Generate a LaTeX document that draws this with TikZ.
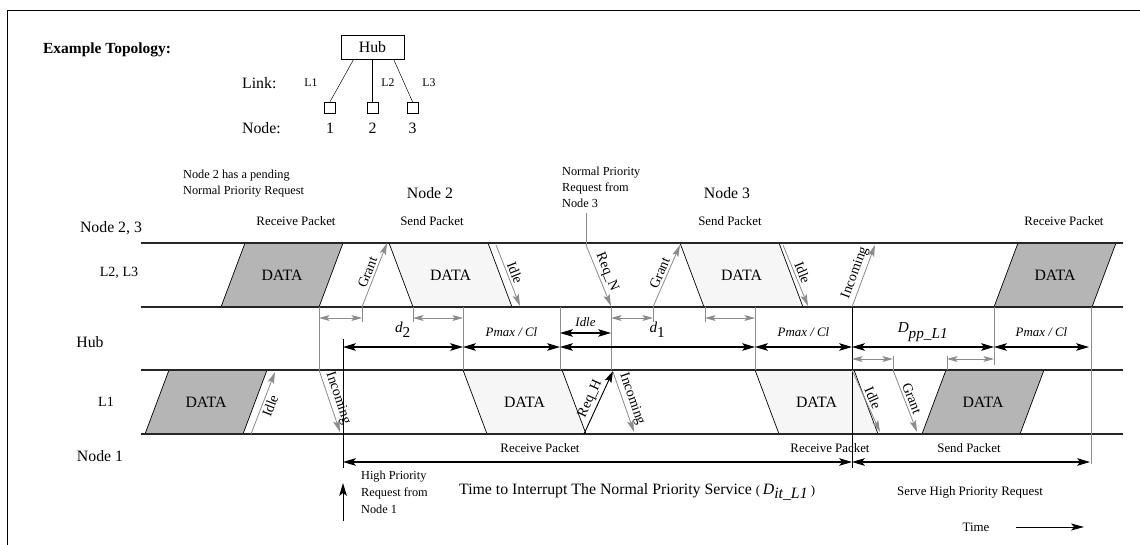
\documentclass[tikz,border=0pt]{standalone}
\usepackage{fontspec}
\setmainfont{Liberation Serif}
\usetikzlibrary{arrows.meta}

\definecolor{pktdark}{gray}{0.71}
\definecolor{pktlight}{gray}{0.965}
\definecolor{wire}{gray}{0.55}

\begin{document}
\begin{tikzpicture}[x=0.03cm,y=-0.03cm,
  bigtxt/.style={font=\fontsize{13.5}{16}\selectfont},
  pkttxt/.style={font=\fontsize{11}{13}\selectfont},
  notetxt/.style={font=\fontsize{10.5}{13.4}\selectfont, align=left, anchor=north west},
  rottxt/.style={font=\fontsize{12}{14}\selectfont, text=black, sloped, above, inner sep=2pt},
  band/.style={line width=0.9pt, black!85},
  dark/.style={draw, line width=0.6pt, fill=pktdark},
  light/.style={draw, line width=0.6pt, fill=pktlight},
  sig/.style={wire, line width=0.7pt, -{Stealth[length=10pt,width=5.5pt,inset=2pt]}},
  gdim/.style={wire, line width=0.7pt, {Stealth[length=9pt,width=5pt,inset=2pt]}-{Stealth[length=9pt,width=5pt,inset=2pt]}},
  dim/.style={line width=0.9pt, {Stealth[length=11pt,width=6.5pt,inset=2.5pt]}-{Stealth[length=11pt,width=6.5pt,inset=2.5pt]}},
  tick/.style={wire, line width=0.6pt}]
\useasboundingbox (0,0) rectangle (1140,545);
\draw[line width=0.8pt] (1140,10) -- (7,10) -- (7,545);

% topology
\node[anchor=west, font=\fontsize{13.2}{15}\selectfont\bfseries] (topo) at (39,50) {Example Topology:};
\node[draw, minimum width=53.6pt, minimum height=20.4pt, bigtxt] (hub) at (372.5,47) {Hub};
\foreach \n/\x in {1/330,2/372.5,3/412.5}{
  \node[draw, minimum size=9.4pt, inner sep=0pt] (n\n) at (\x,107.5) {};
  \node[bigtxt] (nl\n) at (\x,128) {\n};
}
\draw (hub.213) -- (n1.north);
\draw (hub.south) -- (n2.north);
\draw (hub.-30) -- (n3.north);
\node[anchor=west, bigtxt] (lk) at (238,83) {Link:};
\node[anchor=west, bigtxt] (nd) at (238,128) {Node:};
\foreach \l/\x in {L1/311,L2/388,L3/429}
  \node[font=\fontsize{10}{12}\selectfont] at (\x,83) {\l};

% packets
\foreach \x/\y in {245/243,1018/243,169/370,946/370}{
  \draw[dark] (\x,\y) -- ++(98,0) -- ++(-24,64) -- ++(-98,0) -- cycle;
  \path (\x,\y) ++(37,32) node[bigtxt] {DATA};
}
\foreach \x/\y in {389/243,680/243,463/370,755/370}{
  \draw[light] (\x,\y) -- ++(99,0) -- ++(24,64) -- ++(-99,0) -- cycle;
  \path (\x,\y) ++(61.5,32) node[bigtxt] {DATA};
}

% time lines
\foreach \y in {243,307,370,434}
  \draw[band] (141,\y) -- (1123,\y);
\node[bigtxt] (s23) at (111,228) {Node 2, 3};
\node[font=\fontsize{12}{14}\selectfont] (l23) at (119,273) {L2, L3};
\node[bigtxt] (shub) at (90,342) {Hub};
\node[font=\fontsize{12}{14}\selectfont] (l1) at (106,402) {L1};
\node[bigtxt] (s1) at (100,456) {Node 1};

% labels over the packets
\node[pkttxt] at (296,221) {Receive Packet};
\node[pkttxt] at (432,221) {Send Packet};
\node[pkttxt] at (730,221) {Send Packet};
\node[pkttxt] at (1064,221) {Receive Packet};
\node[pkttxt] at (540,448) {Receive Packet};
\node[pkttxt] at (830,448) {Receive Packet};
\node[pkttxt] at (969,448) {Send Packet};
\node[bigtxt] at (430,193) {Node 2};
\node[bigtxt] at (727,193) {Node 3};
\node[notetxt] (pend) at (179,166) {Node 2 has a pending\\Normal Priority Request};
\node[notetxt] (reqn) at (558,163) {Normal Priority\\Request from\\Node 3};

% hub marks
\foreach \x in {319,463,560,611,755}
  \draw[tick] (\x,307) -- (\x,370);
\draw[tick] (994,307) -- (994,365);
\draw[tick] (1091,307) -- (1091,464);
\foreach \x in {362,413,653,705}
  \draw[tick] (\x,307) -- (\x,322);
\foreach \x in {893,947}
  \draw[tick] (\x,356) -- (\x,370);
\draw[line width=0.8pt] (343,339) -- (343,468);
\draw[line width=0.8pt] (852,307) -- (852,468);

\foreach \p/\q/\y in {319/362/318,413/463/318,611/653/318,705/755/318,852/893/359,947/994/359}
  \draw[gdim] (\p,\y) -- (\q,\y);

\foreach \n/\x in {a/343,b/463,c/560,d/755,e/852,f/994,g/1089}
  \coordinate (\n) at (\x,347);
\draw[dim] (a) -- node[above=4pt] {\fontsize{13}{15}\selectfont\textit{d}$_{\textrm{2}}$} (b);
\draw[dim] (b) -- node[above=5pt, pkttxt] {\textit{Pmax / Cl}} (c);
\draw[dim] (c) -- node[above=4pt] {\fontsize{13}{15}\selectfont\textit{d}$_{\textrm{1}}$} (d);
\draw[dim] (d) -- node[above=5pt, pkttxt] {\textit{Pmax / Cl}} (e);
\draw[dim] (e) -- node[above=1pt] {\fontsize{13}{15}\selectfont\textit{D}$_{\textit{pp\_L1}}$} (f);
\draw[dim] (f) -- node[above=5pt, pkttxt] {\textit{Pmax / Cl}} (g);
\coordinate (i0) at (560,333);
\coordinate (i1) at (611,333);
\draw[dim] (i0) -- node[above=2pt, pkttxt] {\textit{Idle}} (i1);

% signals on the links
\draw[sig] (362,307) -- node[rottxt] {Grant} (387,243);
\draw[sig] (496,245) -- node[rottxt] {Idle} (520,306);
\draw[tick] (reqn.south west -| 586,0) ++(0,2) -- (586,245);
\draw[sig] (586,245) -- node[rottxt] {Req\_N} (611,306);
\draw[sig] (653,307) -- node[rottxt] {Grant} (680,245);
\draw[sig] (783,245) -- node[rottxt] {Idle} (808,306);
\draw[sig] (852,307) -- node[rottxt] {Incoming} (875,245);
\draw[sig] (251,434) -- node[rottxt, below] {Idle} (275,372);
\draw[sig] (319,370) -- node[rottxt] {Incoming} (340,432);
\draw[line width=0.8pt, -{Stealth[length=10pt,width=6pt,inset=2pt]}] (584,434) -- node[rottxt] {Req\_H} (613,371);
\draw[sig] (613,372) -- node[rottxt] {Incoming} (634,432);
\draw[sig] (852,370) -- node[rottxt] {Idle} (880,432);
\draw[sig] (893,370) -- node[rottxt] {Grant} (917,432);

% node 1 service
\coordinate (r0) at (343,462);
\coordinate (r1) at (852,462);
\coordinate (r2) at (1090,462);
\draw[dim] (r0) -- (r1);
\draw[dim] (r1) -- (r2);
\coordinate (hp) at (343,521);
\draw[line width=0.8pt, -{Stealth[length=11pt,width=6.5pt,inset=2.5pt]}] (hp) -- (343,483);
\node[notetxt, font=\fontsize{10.5}{14.4}\selectfont] (reqh) at (357,467) {High Priority\\Request from\\Node 1};
\node[anchor=west, bigtxt] (dit) at (455,492) {Time to Interrupt The Normal Priority Service {\fontsize{11}{13}\selectfont(}\,\textit{D}$_{\textit{it\_L1}}$\,{\fontsize{11}{13}\selectfont)}};
\node[pkttxt] (serve) at (970,492) {Serve High Priority Request};
\node[pkttxt] (time) at (976,527) {Time};
\coordinate (t1) at (1084,527);
\draw[line width=0.8pt, -{Stealth[length=11pt,width=6pt,inset=2.5pt]}] (time.east) ++(22,0) -- (t1);
\end{tikzpicture}
\end{document}
